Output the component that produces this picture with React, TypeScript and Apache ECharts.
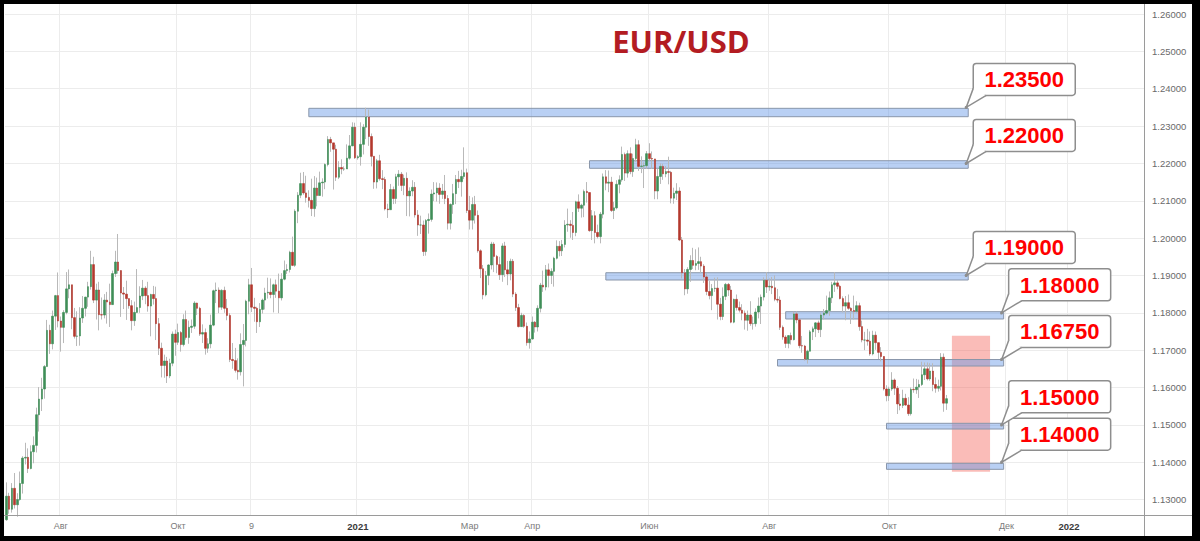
import React, { useEffect, useRef } from "react";
import * as echarts from "echarts";

// ---------- data ----------
const START_DATE = "2020-07-06";
const CATEGORY_COUNT = 418;
const FIRST_OPEN = 1.1246;

// daily closes (EUR/USD), Jul 6 2020 .. Nov 1 2021 (open = previous close)
const CLOSE = [
  // Jul 2020
  1.1309, 1.1274, 1.1330, 1.1286, 1.1300, 1.1343, 1.1411, 1.1413, 1.1383, 1.1428, 1.1445, 1.1527, 1.1569, 1.1596, 1.1656, 1.1753, 1.1717, 1.1791, 1.1846, 1.1778,
  // Aug 2020
  1.1761, 1.1801, 1.1864, 1.1875, 1.1787, 1.1737, 1.1738, 1.1786, 1.1812, 1.1842, 1.1870, 1.1929, 1.1834, 1.1861, 1.1795, 1.1794, 1.1834, 1.1829, 1.1822, 1.1905, 1.1936,
  // Sep 2020
  1.1913, 1.1853, 1.1850, 1.1838, 1.1819, 1.1779, 1.1801, 1.1814, 1.1845, 1.1866, 1.1846, 1.1818, 1.1849, 1.1838, 1.1771, 1.1705, 1.1659, 1.1671, 1.1631, 1.1665, 1.1743, 1.1721,
  // Oct 2020
  1.1747, 1.1715, 1.1782, 1.1734, 1.1761, 1.1764, 1.1826, 1.1812, 1.1743, 1.1747, 1.1705, 1.1717, 1.1767, 1.1859, 1.1861, 1.1815, 1.1860, 1.1812, 1.1793, 1.1675, 1.1672, 1.1646,
  // Nov 2020
  1.1642, 1.1715, 1.1726, 1.1831, 1.1875, 1.1815, 1.1812, 1.1776, 1.1809, 1.1834, 1.1853, 1.1855, 1.1849, 1.1875, 1.1858, 1.1840, 1.1890, 1.1913, 1.1916, 1.1962, 1.1927,
  // Dec 2020
  1.2072, 1.2115, 1.2146, 1.2121, 1.2109, 1.2101, 1.2079, 1.2134, 1.2114, 1.2148, 1.2150, 1.2197, 1.2264, 1.2255, 1.2238, 1.2163, 1.2189, 1.2185, 1.2185, 1.2214, 1.2247, 1.2297, 1.2215,
  // Jan 2021
  1.2218, 1.2251, 1.2297, 1.2324, 1.2272, 1.2219, 1.2150, 1.2207, 1.2159, 1.2157, 1.2078, 1.2076, 1.2130, 1.2106, 1.2164, 1.2171, 1.2141, 1.2160, 1.2113, 1.2126, 1.2136,
  // Feb 2021
  1.2062, 1.2035, 1.2035, 1.1964, 1.2047, 1.2050, 1.2118, 1.2121, 1.2134, 1.2117, 1.2126, 1.2106, 1.2040, 1.2090, 1.2119, 1.2157, 1.2151, 1.2165, 1.2175, 1.2074,
  // Mar 2021
  1.2048, 1.2090, 1.2061, 1.1966, 1.1918, 1.1848, 1.1900, 1.1928, 1.1984, 1.1951, 1.1929, 1.1902, 1.1979, 1.1915, 1.1904, 1.1938, 1.1850, 1.1814, 1.1763, 1.1793, 1.1764, 1.1720, 1.1730,
  // Apr 2021
  1.1775, 1.1762, 1.1812, 1.1874, 1.1869, 1.1915, 1.1900, 1.1911, 1.1946, 1.1978, 1.1966, 1.1983, 1.2035, 1.2037, 1.2034, 1.2015, 1.2097, 1.2080, 1.2088, 1.2125, 1.2122, 1.2020,
  // May 2021
  1.2060, 1.2015, 1.2004, 1.2064, 1.2164, 1.2147, 1.2150, 1.2074, 1.2081, 1.2144, 1.2156, 1.2224, 1.2174, 1.2226, 1.2178, 1.2213, 1.2250, 1.2192, 1.2193, 1.2194, 1.2226,
  // Jun 2021
  1.2213, 1.2212, 1.2126, 1.2165, 1.2192, 1.2172, 1.2178, 1.2176, 1.2107, 1.2120, 1.2126, 1.1995, 1.1907, 1.1864, 1.1916, 1.1940, 1.1927, 1.1932, 1.1937, 1.1925, 1.1896, 1.1857,
  // Jul 2021
  1.1846, 1.1865, 1.1866, 1.1823, 1.1790, 1.1844, 1.1876, 1.1861, 1.1775, 1.1836, 1.1814, 1.1807, 1.1799, 1.1780, 1.1794, 1.1771, 1.1771, 1.1802, 1.1818, 1.1842, 1.1887, 1.1869,
  // Aug 2021
  1.1871, 1.1867, 1.1836, 1.1834, 1.1761, 1.1735, 1.1718, 1.1739, 1.1728, 1.1797, 1.1781, 1.1712, 1.1711, 1.1676, 1.1697, 1.1749, 1.1757, 1.1773, 1.1755, 1.1794, 1.1799, 1.1806,
  // Sep 2021
  1.1840, 1.1875, 1.1880, 1.1871, 1.1838, 1.1818, 1.1827, 1.1812, 1.1806, 1.1804, 1.1819, 1.1763, 1.1727, 1.1727, 1.1724, 1.1690, 1.1740, 1.1720, 1.1694, 1.1683, 1.1596, 1.1578,
  // Oct 2021 + Nov 1
  1.1596, 1.1620, 1.1598, 1.1556, 1.1552, 1.1571, 1.1553, 1.1530, 1.1595, 1.1594, 1.1601, 1.1608, 1.1634, 1.1650, 1.1623, 1.1644, 1.1608, 1.1598, 1.1603, 1.1681, 1.1558, 1.1570,
];

const HIGH = [
  1.1346, 1.1318, 1.1344, 1.1371, 1.1317, 1.1375, 1.1416, 1.1452, 1.1437, 1.1445, 1.1469, 1.1546, 1.1601, 1.1626, 1.1660, 1.1781, 1.1768, 1.1806, 1.1848, 1.1908,
  1.1790, 1.1807, 1.1909, 1.1916, 1.1872, 1.1813, 1.1804, 1.1815, 1.1845, 1.1843, 1.1883, 1.1966, 1.1950, 1.1878, 1.1883, 1.1841, 1.1850, 1.1856, 1.1878, 1.1913, 1.1966,
  1.2011, 1.1914, 1.1869, 1.1886, 1.1838, 1.1834, 1.1830, 1.1917, 1.1871, 1.1888, 1.1871, 1.1883, 1.1851, 1.1872, 1.1870, 1.1786, 1.1720, 1.1688, 1.1682, 1.1677, 1.1750, 1.1755,
  1.1771, 1.1751, 1.1796, 1.1806, 1.1779, 1.1782, 1.1831, 1.1827, 1.1816, 1.1769, 1.1758, 1.1732, 1.1795, 1.1862, 1.1881, 1.1868, 1.1863, 1.1870, 1.1837, 1.1799, 1.1719, 1.1706,
  1.1678, 1.1745, 1.1770, 1.1835, 1.1891, 1.1920, 1.1840, 1.1816, 1.1826, 1.1838, 1.1867, 1.1894, 1.1892, 1.1878, 1.1889, 1.1905, 1.1906, 1.1940, 1.1930, 1.1966, 1.2004,
  1.2077, 1.2123, 1.2175, 1.2177, 1.2167, 1.2128, 1.2159, 1.2166, 1.2162, 1.2178, 1.2160, 1.2200, 1.2273, 1.2271, 1.2255, 1.2250, 1.2206, 1.2211, 1.2192, 1.2251, 1.2276, 1.2310, 1.2309,
  1.2222, 1.2310, 1.2305, 1.2349, 1.2344, 1.2280, 1.2217, 1.2212, 1.2223, 1.2182, 1.2164, 1.2092, 1.2145, 1.2138, 1.2172, 1.2182, 1.2177, 1.2170, 1.2176, 1.2136, 1.2155,
  1.2150, 1.2075, 1.2060, 1.2047, 1.2051, 1.2066, 1.2130, 1.2150, 1.2149, 1.2147, 1.2145, 1.2169, 1.2115, 1.2093, 1.2145, 1.2169, 1.2180, 1.2183, 1.2243, 1.2186,
  1.2113, 1.2109, 1.2113, 1.2074, 1.1970, 1.1928, 1.1912, 1.1930, 1.1990, 1.1989, 1.1955, 1.1950, 1.1986, 1.1990, 1.1939, 1.1945, 1.1944, 1.1855, 1.1824, 1.1800, 1.1796, 1.1774, 1.1750,
  1.1790, 1.1778, 1.1820, 1.1880, 1.1913, 1.1928, 1.1932, 1.1919, 1.1950, 1.1994, 1.1992, 1.1995, 1.2048, 1.2079, 1.2048, 1.2070, 1.2100, 1.2117, 1.2092, 1.2130, 1.2150, 1.2122,
  1.2075, 1.2072, 1.2036, 1.2070, 1.2173, 1.2182, 1.2181, 1.2164, 1.2097, 1.2155, 1.2168, 1.2245, 1.2229, 1.2235, 1.2243, 1.2226, 1.2266, 1.2262, 1.2219, 1.2203, 1.2233,
  1.2254, 1.2232, 1.2208, 1.2185, 1.2200, 1.2199, 1.2193, 1.2218, 1.2180, 1.2135, 1.2147, 1.2136, 1.2003, 1.1917, 1.1922, 1.1954, 1.1974, 1.1970, 1.1975, 1.1950, 1.1930, 1.1906,
  1.1885, 1.1877, 1.1894, 1.1895, 1.1840, 1.1868, 1.1880, 1.1880, 1.1872, 1.1838, 1.1849, 1.1830, 1.1823, 1.1806, 1.1806, 1.1831, 1.1790, 1.1812, 1.1841, 1.1849, 1.1895, 1.1909,
  1.1892, 1.1896, 1.1900, 1.1864, 1.1844, 1.1766, 1.1740, 1.1740, 1.1747, 1.1803, 1.1804, 1.1782, 1.1738, 1.1714, 1.1701, 1.1754, 1.1763, 1.1775, 1.1779, 1.1800, 1.1810, 1.1846,
  1.1857, 1.1883, 1.1909, 1.1888, 1.1875, 1.1844, 1.1845, 1.1849, 1.1815, 1.1846, 1.1831, 1.1827, 1.1779, 1.1749, 1.1757, 1.1750, 1.1752, 1.1750, 1.1719, 1.1708, 1.1684, 1.1606,
  1.1602, 1.1641, 1.1624, 1.1604, 1.1583, 1.1594, 1.1583, 1.1574, 1.1600, 1.1624, 1.1623, 1.1621, 1.1669, 1.1667, 1.1667, 1.1665, 1.1665, 1.1627, 1.1621, 1.1692, 1.1691, 1.1580,
];

const LOW = [
  1.1243, 1.1262, 1.1265, 1.1276, 1.1254, 1.1297, 1.1316, 1.1394, 1.1371, 1.1381, 1.1397, 1.1426, 1.1482, 1.1537, 1.1570, 1.1656, 1.1690, 1.1702, 1.1754, 1.1761,
  1.1696, 1.1719, 1.1796, 1.1839, 1.1756, 1.1731, 1.1711, 1.1712, 1.1773, 1.1790, 1.1816, 1.1862, 1.1826, 1.1782, 1.1753, 1.1782, 1.1785, 1.1771, 1.1762, 1.1821, 1.1896,
  1.1905, 1.1789, 1.1810, 1.1781, 1.1811, 1.1753, 1.1765, 1.1800, 1.1800, 1.1834, 1.1823, 1.1803, 1.1737, 1.1822, 1.1727, 1.1687, 1.1627, 1.1626, 1.1612, 1.1625, 1.1657, 1.1685,
  1.1714, 1.1696, 1.1710, 1.1728, 1.1717, 1.1746, 1.1757, 1.1794, 1.1738, 1.1719, 1.1688, 1.1693, 1.1705, 1.1764, 1.1826, 1.1799, 1.1808, 1.1800, 1.1780, 1.1668, 1.1650, 1.1640,
  1.1621, 1.1632, 1.1603, 1.1710, 1.1796, 1.1802, 1.1776, 1.1746, 1.1762, 1.1798, 1.1809, 1.1838, 1.1839, 1.1801, 1.1840, 1.1799, 1.1833, 1.1887, 1.1904, 1.1908, 1.1925,
  1.1923, 1.2040, 1.2107, 1.2116, 1.2095, 1.2082, 1.2059, 1.2057, 1.2085, 1.2120, 1.2111, 1.2131, 1.2192, 1.2231, 1.2130, 1.2153, 1.2158, 1.2171, 1.2180, 1.2191, 1.2210, 1.2246, 1.2212,
  1.2210, 1.2194, 1.2224, 1.2265, 1.2247, 1.2192, 1.2132, 1.2133, 1.2154, 1.2131, 1.2074, 1.2054, 1.2076, 1.2091, 1.2092, 1.2140, 1.2126, 1.2115, 1.2059, 1.2058, 1.2112,
  1.2055, 1.2006, 1.2011, 1.1952, 1.1953, 1.2012, 1.2044, 1.2099, 1.2098, 1.2092, 1.2105, 1.2091, 1.2023, 1.2023, 1.2065, 1.2091, 1.2134, 1.2111, 1.2158, 1.2067,
  1.2023, 1.2023, 1.2039, 1.1961, 1.1893, 1.1836, 1.1844, 1.1874, 1.1916, 1.1909, 1.1906, 1.1888, 1.1883, 1.1896, 1.1874, 1.1887, 1.1842, 1.1805, 1.1761, 1.1762, 1.1760, 1.1712, 1.1704,
  1.1728, 1.1747, 1.1750, 1.1801, 1.1856, 1.1860, 1.1868, 1.1877, 1.1870, 1.1943, 1.1951, 1.1952, 1.1975, 1.2017, 1.2001, 1.1995, 1.2005, 1.2070, 1.2055, 1.2056, 1.2095, 1.2017,
  1.1995, 1.1986, 1.1999, 1.1986, 1.2053, 1.2128, 1.2123, 1.2070, 1.2051, 1.2077, 1.2120, 1.2151, 1.2153, 1.2162, 1.2171, 1.2164, 1.2204, 1.2180, 1.2174, 1.2134, 1.2185,
  1.2206, 1.2185, 1.2104, 1.2104, 1.2145, 1.2156, 1.2163, 1.2144, 1.2093, 1.2092, 1.2102, 1.1992, 1.1892, 1.1847, 1.1851, 1.1883, 1.1917, 1.1914, 1.1915, 1.1906, 1.1880, 1.1847,
  1.1836, 1.1807, 1.1856, 1.1782, 1.1780, 1.1781, 1.1834, 1.1845, 1.1772, 1.1772, 1.1806, 1.1801, 1.1780, 1.1755, 1.1752, 1.1765, 1.1755, 1.1763, 1.1785, 1.1770, 1.1833, 1.1853,
  1.1859, 1.1850, 1.1831, 1.1827, 1.1754, 1.1728, 1.1706, 1.1705, 1.1715, 1.1726, 1.1772, 1.1705, 1.1693, 1.1672, 1.1664, 1.1697, 1.1727, 1.1735, 1.1746, 1.1735, 1.1782, 1.1795,
  1.1792, 1.1826, 1.1856, 1.1863, 1.1836, 1.1801, 1.1780, 1.1808, 1.1770, 1.1782, 1.1799, 1.1752, 1.1721, 1.1700, 1.1712, 1.1685, 1.1686, 1.1701, 1.1676, 1.1670, 1.1592, 1.1563,
  1.1564, 1.1591, 1.1580, 1.1529, 1.1539, 1.1545, 1.1551, 1.1524, 1.1525, 1.1586, 1.1583, 1.1572, 1.1604, 1.1620, 1.1619, 1.1618, 1.1590, 1.1586, 1.1589, 1.1592, 1.1535, 1.1540,
];

const AXIS_MARKS: Record<string, string> = {
  "2020-08-03": "Авг",
  "2020-10-01": "Окт",
  "2020-11-09": "9",
  "2021-01-01": "2021",
  "2021-03-01": "Мар",
  "2021-04-01": "Апр",
  "2021-06-01": "Июн",
  "2021-08-02": "Авг",
  "2021-10-01": "Окт",
  "2021-12-01": "Дек",
  "2022-01-03": "2022",
};

const Y_TICKS = [1.13, 1.14, 1.15, 1.16, 1.17, 1.18, 1.19, 1.2, 1.21, 1.22, 1.23, 1.24, 1.25, 1.26];
const Y_MIN = 1.12586;
const Y_MAX = 1.26268;

// support / resistance zones: label, level, from, to, top, bottom
const LEVEL_LABELS = ["1.23500", "1.22000", "1.19000", "1.18000", "1.16750", "1.15000", "1.14000"];
const LEVEL_VALUES = [1.235, 1.22, 1.19, 1.18, 1.1675, 1.15, 1.14];
const LEVEL_FROM = ["2020-12-08", "2021-04-30", "2021-05-10", "2021-08-10", "2021-08-05", "2021-09-30", "2021-09-30"];
const LEVEL_TO = ["2021-11-11", "2021-11-11", "2021-11-11", "2021-11-30", "2021-11-30", "2021-11-30", "2021-11-30"];
const LEVEL_TOP = [1.23475, 1.22072, 1.19073, 1.18029, 1.16749, 1.15041, 1.1397];
const LEVEL_BOTTOM = [1.2325, 1.21869, 1.18878, 1.17834, 1.16575, 1.14888, 1.13809];

const TARGET_FROM = "2021-11-03";
const TARGET_TO = "2021-11-23";
const TARGET_TOP = 1.17387;
const TARGET_BOTTOM = 1.13745;

const TITLE = "EUR/USD";

// ---------- helpers ----------
function weekdayDates(start: string, count: number): string[] {
  const out: string[] = [];
  const d = new Date(start + "T00:00:00Z");
  while (out.length < count) {
    const wd = d.getUTCDay();
    if (wd !== 0 && wd !== 6) out.push(d.toISOString().slice(0, 10));
    d.setUTCDate(d.getUTCDate() + 1);
  }
  return out;
}

const GREEN = "#3f8e58";
const RED = "#b3382d";
const WICK = "#b9b9b9";
const GRID = "#ececec";
const AXIS = "#9a9a9a";

export default function App() {
  const ref = useRef<HTMLDivElement>(null);

  useEffect(() => {
    if (!ref.current) return;
    const chart = echarts.init(ref.current, undefined, { renderer: "svg" });

    const cats = weekdayDates(START_DATE, CATEGORY_COUNT);
    const n = Math.min(CLOSE.length, HIGH.length, LOW.length);
    const ohlc: number[][] = [];
    const bodies: number[][] = [];
    for (let i = 0; i < n; i++) {
      const o = i === 0 ? FIRST_OPEN : CLOSE[i - 1];
      const c = CLOSE[i];
      const h = Math.max(HIGH[i], o, c);
      const l = Math.min(LOW[i], o, c);
      ohlc.push([o, c, l, h]);
      bodies.push([o, c, Math.min(o, c), Math.max(o, c)]);
    }

    const isMark = (_i: number, v: string) => Object.prototype.hasOwnProperty.call(AXIS_MARKS, v);

    chart.setOption({
      animation: false,
      backgroundColor: "#ffffff",
      grid: { left: 5, right: 56, top: 4, bottom: 26 },
      xAxis: {
        type: "category",
        data: cats,
        boundaryGap: true,
        axisLine: { show: false },
        axisTick: { show: false },
        axisLabel: {
          interval: isMark,
          formatter: (v: string) => {
            const t = AXIS_MARKS[v] || "";
            return /^\d{4}$/.test(t) ? `{y|${t}}` : t;
          },
          color: "#7a7a7a",
          fontSize: 9,
          fontFamily: "Liberation Sans",
          margin: 6,
          rich: {
            y: { fontWeight: "bold", color: "#3a3a3a", fontSize: 9.5, fontFamily: "Liberation Sans" },
          },
        },
        splitLine: { show: true, interval: isMark, lineStyle: { color: GRID, width: 1 } },
      },
      yAxis: {
        type: "value",
        position: "right",
        min: Y_MIN,
        max: Y_MAX,
        axisLine: { show: false },
        axisTick: { show: false, customValues: Y_TICKS },
        axisLabel: {
          customValues: Y_TICKS,
          formatter: (v: number) => v.toFixed(5),
          color: "#6a6a6a",
          fontSize: 9.5,
          fontFamily: "Liberation Sans",
          margin: 8,
        },
        splitLine: { show: true, lineStyle: { color: GRID, width: 1 } },
      },
      series: [
        {
          type: "candlestick",
          name: "wicks",
          data: ohlc,
          barWidth: 1,
          itemStyle: { color: WICK, color0: WICK, borderColor: WICK, borderColor0: WICK, borderWidth: 1 },
          markArea: {
            silent: true,
            itemStyle: { color: "rgba(242,96,86,0.42)", borderWidth: 0 },
            data: [[
              { xAxis: TARGET_FROM, yAxis: TARGET_TOP },
              { xAxis: TARGET_TO, yAxis: TARGET_BOTTOM },
            ]],
          },
        },
        {
          type: "candlestick",
          name: "bodies",
          data: bodies,
          barWidth: 2,
          itemStyle: { color: GREEN, color0: RED, borderColor: GREEN, borderColor0: RED, borderWidth: 0.6 },
          markArea: {
            silent: true,
            itemStyle: { color: "rgba(100,150,230,0.45)", borderColor: "#8996aa", borderWidth: 1 },
            data: LEVEL_VALUES.map((_, i) => [
              { xAxis: LEVEL_FROM[i], yAxis: LEVEL_TOP[i] },
              { xAxis: LEVEL_TO[i], yAxis: LEVEL_BOTTOM[i] },
            ]),
          },
        },
      ],
    });

    const toPx = (d: string, v: number) =>
      chart.convertToPixel({ xAxisIndex: 0, yAxisIndex: 0 }, [d, v]) as unknown as number[];

    const els: any[] = [];
    // axis lines
    els.push({ type: "line", z: 90, shape: { x1: 1144.5, y1: 4, x2: 1144.5, y2: 536 }, style: { stroke: AXIS, lineWidth: 1 } });
    els.push({ type: "line", z: 90, shape: { x1: 4, y1: 515.5, x2: 1192, y2: 515.5 }, style: { stroke: AXIS, lineWidth: 1 } });
    // title
    els.push({
      type: "text", z: 95, x: 681, y: 41,
      style: {
        text: TITLE, fill: "#b31c22", fontSize: 31, fontWeight: "bold", fontFamily: "Open Sans",
        align: "center", verticalAlign: "middle", textAlign: "center", textVerticalAlign: "middle",
      },
    });
    // callouts
    LEVEL_VALUES.forEach((val, i) => {
      const p = toPx(LEVEL_TO[i], val);
      if (!p) return;
      const ax = p[0] - 2;
      const ay = p[1];
      const w = 102;
      const h = 32;
      const left = ax + 7;
      const bottom = ay - 12;
      const top = bottom - h;
      const tail = [[left, bottom - 7], [ax, ay], [left + 13, bottom]];
      els.push({ type: "rect", z: 80, shape: { x: left, y: top, width: w, height: h, r: 3 }, style: { fill: "#ffffff", stroke: "#8e8e8e", lineWidth: 1.5 } });
      els.push({ type: "polygon", z: 81, shape: { points: tail }, style: { fill: "#ffffff", stroke: null } });
      els.push({ type: "polyline", z: 82, shape: { points: tail }, style: { fill: null, stroke: "#8e8e8e", lineWidth: 1.5 } });
      els.push({ type: "circle", z: 82, shape: { cx: ax, cy: ay, r: 1.6 }, style: { fill: "#8e8e8e" } });
      els.push({
        type: "text", z: 83, x: left + w / 2, y: top + h / 2 + 0.5,
        style: {
          text: LEVEL_LABELS[i], fill: "#ff0000", fontSize: 22, fontWeight: "bold", fontFamily: "Liberation Sans",
          align: "center", verticalAlign: "middle", textAlign: "center", textVerticalAlign: "middle",
        },
      });
    });
    // black frame
    els.push({ type: "rect", z: 100, shape: { x: 0, y: 0, width: 4, height: 541 }, style: { fill: "#000" } });
    els.push({ type: "rect", z: 100, shape: { x: 0, y: 0, width: 1200, height: 4 }, style: { fill: "#000" } });
    els.push({ type: "rect", z: 100, shape: { x: 1192, y: 0, width: 8, height: 541 }, style: { fill: "#000" } });
    els.push({ type: "rect", z: 100, shape: { x: 0, y: 536, width: 1200, height: 5 }, style: { fill: "#000" } });

    chart.setOption({ graphic: { elements: els } });

    return () => chart.dispose();
  }, []);

  return (
    <div
      ref={ref}
      style={{ position: "fixed", left: 0, top: 0, width: 1200, height: 541, background: "#fff" }}
    />
  );
}
